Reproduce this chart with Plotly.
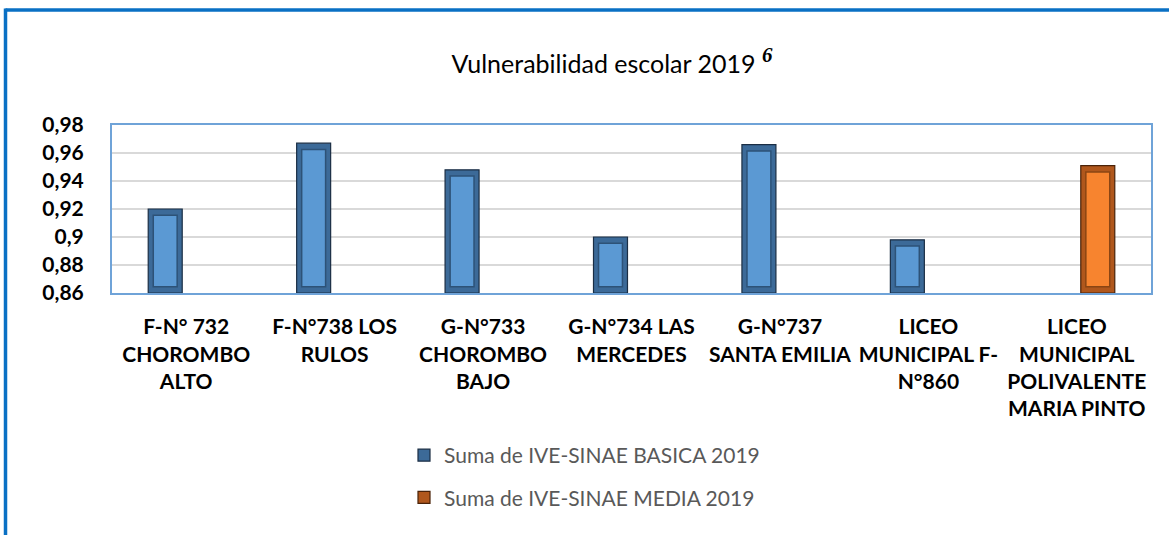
import plotly.graph_objects as go

# ---- data ----
categories = [
    "F-N° 732<br>CHOROMBO<br>ALTO",
    "F-N°738 LOS<br>RULOS",
    "G-N°733<br>CHOROMBO<br>BAJO",
    "G-N°734 LAS<br>MERCEDES",
    "G-N°737<br>SANTA EMILIA",
    "LICEO<br>MUNICIPAL F-<br>N°860",
    "LICEO<br>MUNICIPAL<br>POLIVALENTE<br>MARIA PINTO",
]
basica = [0.920, 0.967, 0.948, 0.900, 0.966, 0.898, None]
media = [None, None, None, None, None, None, 0.951]
series_names = ["Suma de IVE-SINAE BASICA 2019", "Suma de IVE-SINAE MEDIA 2019"]
y_ticks = [0.86, 0.88, 0.90, 0.92, 0.94, 0.96, 0.98]
y_ticktext = ["0,86", "0,88", "0,9", "0,92", "0,94", "0,96", "0,98"]
title_text = "Vulnerabilidad escolar 2019"
footnote = "6"

# ---- layout geometry ----
W, H = 1169, 535
L, R, T, B = 112, 18, 125, 242
ymin, ymax = 0.86, 0.98
pw, ph = W - L - R, H - T - B

bar_w = 0.229
inset_x = 0.034
inset_y = 0.0045

styles = [
    dict(outer="#3C6A98", outer_line="#1B2E44", inner="#5B99D3", inner_line="#2D5277", offset=-0.256),
    dict(outer="#B0571C", outer_line="#4A2208", inner="#F7842F", inner_line="#8A4513", offset=0.027),
]

fig = go.Figure()
for vals, name, st in zip([basica, media], series_names, styles):
    fig.add_trace(go.Bar(
        x=categories, y=[None if v is None else v - ymin for v in vals], base=ymin,
        name=name, width=bar_w, offset=st["offset"],
        marker=dict(color=st["outer"], line=dict(color=st["outer_line"], width=1.2)),
        legendgroup=name, showlegend=True, hoverinfo="skip",
    ))
    fig.add_trace(go.Bar(
        x=categories,
        y=[None if v is None else (v - ymin - 2 * inset_y) for v in vals],
        base=ymin + inset_y,
        width=bar_w - 2 * inset_x, offset=st["offset"] + inset_x,
        marker=dict(color=st["inner"], line=dict(color=st["inner_line"], width=1.5)),
        legendgroup=name, showlegend=False, hoverinfo="skip",
    ))

# outer frame (blue top + left lines)
def px_to_paper_x(px):
    return (px - L) / pw

def px_to_paper_y(py):
    return (H - B - py) / ph

frame_color = "#0A70C4"
fig.add_shape(type="line", xref="paper", yref="paper",
              x0=px_to_paper_x(5.5), x1=px_to_paper_x(W + 5),
              y0=px_to_paper_y(10), y1=px_to_paper_y(10),
              line=dict(color=frame_color, width=3.5))
fig.add_shape(type="line", xref="paper", yref="paper",
              x0=px_to_paper_x(5.5), x1=px_to_paper_x(5.5),
              y0=px_to_paper_y(8.5), y1=px_to_paper_y(H + 5),
              line=dict(color=frame_color, width=3.5))

FONT = "Lato, Liberation Sans, sans-serif"

fig.update_layout(
    width=W, height=H,
    margin=dict(l=L, r=R, t=T, b=B, pad=0, autoexpand=False),
    paper_bgcolor="white", plot_bgcolor="white",
    barmode="overlay",
    font=dict(family=FONT, color="black"),
    title=dict(
        text=title_text + " <sup><span style=\"font-family:'Liberation Serif';font-style:italic;"
        "font-weight:bold;font-size:21px\">" + footnote + "</span></sup>",
        x=612 / W, xanchor="center", xref="container",
        y=1 - 64 / H, yanchor="middle", yref="container",
        font=dict(size=25, color="black", family=FONT),
    ),
    xaxis=dict(
        type="category",
        showline=True, mirror=True, linecolor="#6FA3D8", linewidth=2,
        showgrid=False, ticks="", tickangle=0, automargin=False,
        tickfont=dict(size=21, color="black", family=FONT, weight="bold"),
        ticklabelstandoff=14,
        fixedrange=True,
    ),
    yaxis=dict(
        range=[ymin, ymax],
        tickvals=y_ticks, ticktext=y_ticktext, automargin=False,
        showline=True, mirror=True, linecolor="#6FA3D8", linewidth=2,
        showgrid=True, gridcolor="#D9D9D9", gridwidth=2,
        zeroline=False, ticks="",
        tickfont=dict(size=21, color="black", family=FONT, weight="bold"),
        ticklabelstandoff=22,
        fixedrange=True,
    ),
    legend=dict(
        orientation="v",
        x=404 / W, xref="container", xanchor="left",
        y=1 - 435 / H, yref="container", yanchor="top",
        font=dict(size=21, color="#595959", family=FONT),
        tracegroupgap=12,
        bgcolor="rgba(0,0,0,0)",
    ),
    showlegend=True,
)

fig.write_html("out.html", config={"displayModeBar": False},
               post_script="document.body.style.margin='0px';")
